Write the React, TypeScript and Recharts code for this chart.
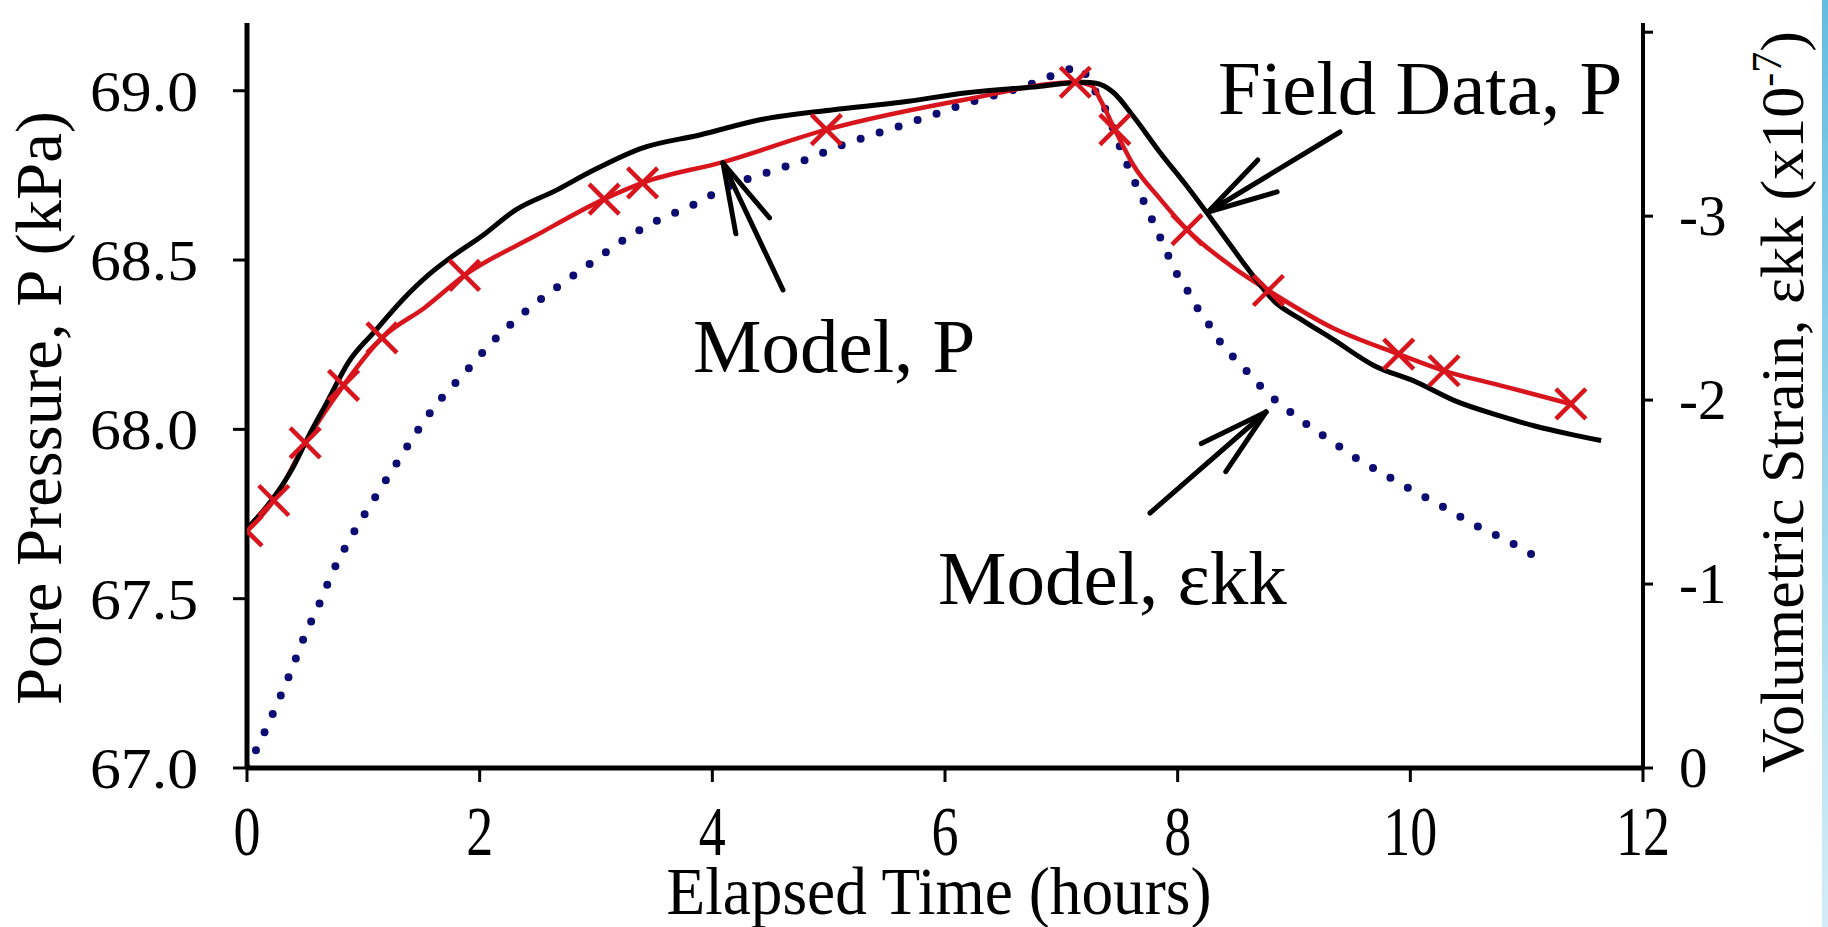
import React from 'react';
import { ComposedChart, Line, Scatter, XAxis, YAxis } from 'recharts';

const FONT = '"Liberation Serif", "Times New Roman", serif';

// Field data, P (black)
const fieldTime = [0, 0.21, 0.39, 0.53, 0.7, 0.87, 1.1, 1.33, 1.56, 1.79, 2.02, 2.3, 2.67, 2.96, 3.39, 3.9, 4.42, 5.04, 5.62, 6.19, 6.76, 7.19, 7.3, 7.45, 7.62, 7.85, 8.08, 8.25, 8.42, 8.59, 8.84, 9.06, 9.33, 9.69, 10.05, 10.38, 10.77, 11.07, 11.37, 11.64];
const fieldP = [67.707, 67.79, 67.884, 67.98, 68.088, 68.197, 68.29, 68.38, 68.456, 68.517, 68.571, 68.646, 68.708, 68.762, 68.83, 68.87, 68.915, 68.944, 68.966, 68.994, 69.011, 69.025, 69.022, 68.994, 68.924, 68.817, 68.718, 68.64, 68.56, 68.48, 68.375, 68.325, 68.267, 68.188, 68.14, 68.085, 68.04, 68.01, 67.986, 67.967];

// Model, P (red line)
const modelTime = [0, 0.23, 0.5, 0.83, 1.16, 1.53, 1.87, 2.47, 3.07, 3.4, 4.1, 4.98, 6.19, 7.12, 7.26, 7.34, 7.46, 7.62, 7.85, 8.08, 8.47, 8.78, 9.33, 9.9, 10.29, 10.77, 11.38];
const modelP = [67.7, 67.79, 67.96, 68.13, 68.27, 68.36, 68.455, 68.57, 68.68, 68.728, 68.79, 68.885, 68.975, 69.025, 69.015, 68.97, 68.885, 68.78, 68.68, 68.59, 68.48, 68.41, 68.3, 68.222, 68.173, 68.13, 68.075];

// Model, P (x markers)
const markerTime = [0, 0.23, 0.5, 0.83, 1.16, 1.87, 3.07, 3.4, 4.98, 7.12, 7.46, 8.08, 8.78, 9.9, 10.29, 11.38];
const markerP = [67.7, 67.79, 67.96, 68.13, 68.27, 68.455, 68.68, 68.728, 68.885, 69.025, 68.885, 68.59, 68.41, 68.222, 68.173, 68.075];

// Model, ekk (blue dotted, x10^-7)
const strainTime = [0, 0.14, 0.26, 0.38, 0.49, 0.62, 0.74, 0.89, 1.06, 1.23, 1.42, 1.62, 1.86, 2.13, 2.41, 2.7, 2.99, 3.26, 3.54, 3.83, 4.1, 4.53, 4.82, 5.09, 5.37, 5.66, 5.94, 6.22, 6.5, 6.79, 7.08, 7.16, 7.22, 7.3, 7.38, 7.49, 7.6, 7.73, 7.86, 7.99, 8.08, 8.16, 8.26, 8.35, 8.47, 8.59, 8.72, 8.86, 9.0, 9.15, 9.29, 9.43, 9.57, 9.71, 9.85, 9.99, 10.28, 10.56, 10.85, 11.13];
const strainValue = [0, -0.18, -0.35, -0.53, -0.71, -0.89, -1.07, -1.25, -1.43, -1.6, -1.79, -1.97, -2.14, -2.33, -2.49, -2.63, -2.76, -2.88, -2.98, -3.06, -3.15, -3.25, -3.31, -3.38, -3.44, -3.5, -3.56, -3.62, -3.67, -3.73, -3.8, -3.81, -3.76, -3.67, -3.58, -3.4, -3.23, -3.05, -2.87, -2.69, -2.6, -2.51, -2.42, -2.33, -2.24, -2.16, -2.07, -1.99, -1.92, -1.85, -1.79, -1.73, -1.67, -1.62, -1.57, -1.52, -1.42, -1.32, -1.23, -1.13];

const xTicks = [0, 2, 4, 6, 8, 10, 12];
const xTickLabels = ['0', '2', '4', '6', '8', '10', '12'];
const pTicks = [67, 67.5, 68, 68.5, 69];
const pTickLabels = ['67.0', '67.5', '68.0', '68.5', '69.0'];
const strainTicks = [-4, -3, -2, -1, 0];
const strainTickLabels = ['', '-3', '-2', '-1', '0'];

const fieldData = fieldTime.map((t, i) => ({ t, p: fieldP[i] }));
const modelData = modelTime.map((t, i) => ({ t, p: modelP[i] }));
const markerData = markerTime.map((t, i) => ({ t, p: markerP[i] }));
const strainData = strainTime.map((t, i) => ({ t, e: strainValue[i] }));

const W = 1828;
const H = 927;
const LW = 200;
const RW = 160;
const XH = 100;

const RED = '#d8141c';
const NAVY = '#0c0c72';

const XTick = ({ x, y, payload }: any) => {
  const label = xTickLabels[xTicks.indexOf(payload.value)];
  return (
    <text x={x} y={y + 71} textAnchor="middle" fontFamily={FONT} fontSize={70} fill="#000"
      textLength={27 * label.length} lengthAdjust="spacingAndGlyphs">{label}</text>
  );
};

const PTick = ({ x, y, payload }: any) => (
  <text x={x - 33} y={y + 20} textAnchor="end" fontFamily={FONT} fontSize={57} fill="#000"
    textLength={108} lengthAdjust="spacingAndGlyphs">{pTickLabels[pTicks.indexOf(payload.value)]}</text>
);

const STick = ({ x, y, payload }: any) => (
  <text x={x + 24} y={y + 19} textAnchor="start" fontFamily={FONT} fontSize={57} fill="#000">
    {strainTickLabels[strainTicks.indexOf(payload.value)]}
  </text>
);

const XMark = ({ cx, cy }: any) => (
  <g stroke={RED} strokeWidth={4.5}>
    <line x1={cx - 15} y1={cy - 15} x2={cx + 15} y2={cy + 15} />
    <line x1={cx - 15} y1={cy + 15} x2={cx + 15} y2={cy - 15} />
  </g>
);

const Arrow = ({ tip, tail }: { tip: number[]; tail: number[] }) => {
  const ang = Math.atan2(tail[1] - tip[1], tail[0] - tip[0]);
  const len = 72;
  const a1 = ang + Math.PI / 12;
  const a2 = ang - Math.PI / 12;
  return (
    <g stroke="#000" strokeWidth={5} strokeLinecap="round" fill="none">
      <line x1={tail[0]} y1={tail[1]} x2={tip[0]} y2={tip[1]} />
      <line x1={tip[0]} y1={tip[1]} x2={tip[0] + len * Math.cos(a1)} y2={tip[1] + len * Math.sin(a1)} />
      <line x1={tip[0]} y1={tip[1]} x2={tip[0] + len * Math.cos(a2)} y2={tip[1] + len * Math.sin(a2)} />
    </g>
  );
};

export default function App() {
  return (
    <div style={{ position: 'relative', width: W, height: H, background: '#fff', overflow: 'hidden' }}>
      <style>{'body{margin:0;background:#fff}'}</style>
      <div style={{ position: 'absolute', left: 1822, top: 0, width: 6, height: H, background: 'linear-gradient(#63bde0, #d3edf7)' }} />
      <div style={{ position: 'absolute', left: 0, top: 0 }}>
        <ComposedChart width={W} height={H} margin={{ top: 23, right: W - 1643 - RW, bottom: H - 768 - XH, left: 247 - LW }}>
          <XAxis xAxisId="b" type="number" dataKey="t" domain={[0, 12]} ticks={xTicks} allowDataOverflow
            height={XH} tickSize={14} axisLine={{ stroke: '#000', strokeWidth: 5 }}
            tickLine={{ stroke: '#000', strokeWidth: 3 }} tick={(p: any) => <XTick {...p} />} />
          <XAxis xAxisId="top" orientation="top" type="number" dataKey="t" domain={[0, 12]} ticks={xTicks}
            allowDataOverflow height={0} mirror tick={false} tickSize={12}
            axisLine={{ stroke: '#000', strokeWidth: 5 }} tickLine={{ stroke: '#000', strokeWidth: 3 }} />
          <YAxis yAxisId="p" type="number" domain={[67, 69.2]} ticks={pTicks} allowDataOverflow width={LW}
            tickSize={14} axisLine={{ stroke: '#000', strokeWidth: 5 }}
            tickLine={{ stroke: '#000', strokeWidth: 3 }} tick={(p: any) => <PTick {...p} />} />
          <YAxis yAxisId="e" orientation="right" type="number" domain={[-4.05, 0]} reversed ticks={strainTicks}
            allowDataOverflow width={RW} tickSize={10} axisLine={{ stroke: '#000', strokeWidth: 4 }}
            tickLine={{ stroke: '#000', strokeWidth: 3 }} tick={(p: any) => <STick {...p} />} />

          <Line xAxisId="b" yAxisId="e" data={strainData} dataKey="e" type="monotone" stroke={NAVY}
            strokeWidth={8} strokeDasharray="0 20" strokeLinecap="round" dot={false} isAnimationActive={false} />
          <Line xAxisId="b" yAxisId="p" data={modelData} dataKey="p" type="monotone" stroke={RED}
            strokeWidth={4.5} dot={false} isAnimationActive={false} />
          <Scatter xAxisId="b" yAxisId="p" data={markerData} dataKey="p"
            shape={(p: any) => <XMark {...p} />} isAnimationActive={false} />
          <Line xAxisId="b" yAxisId="p" data={fieldData} dataKey="p" type="monotone" stroke="#000"
            strokeWidth={5} dot={false} isAnimationActive={false} />
        </ComposedChart>
      </div>
      <svg width={W} height={H} style={{ position: 'absolute', left: 0, top: 0, pointerEvents: 'none' }}
        fontFamily={FONT} fill="#000">
        <text x={61} y={408} fontSize={66} textAnchor="middle" transform="rotate(-90 61 408)"
          textLength={594} lengthAdjust="spacingAndGlyphs">Pore Pressure, P (kPa)</text>
        <text x={1803} y={402} fontSize={62} textAnchor="middle" transform="rotate(-90 1803 402)">
          Volumetric Strain, εkk (x10<tspan dy={-22} fontSize={42}>-7</tspan><tspan dy={22}>)</tspan>
        </text>
        <text x={939} y={914} fontSize={68} textAnchor="middle" textLength={545}
          lengthAdjust="spacingAndGlyphs">Elapsed Time (hours)</text>
        <text x={1218} y={114} fontSize={77}>Field Data, P</text>
        <text x={693} y={372} fontSize={77}>Model, P</text>
        <text x={938} y={604} fontSize={77}>Model, εkk</text>
        <Arrow tip={[1208, 212]} tail={[1340, 132]} />
        <Arrow tip={[723, 163]} tail={[783, 290]} />
        <Arrow tip={[1266, 412]} tail={[1150, 513]} />
      </svg>
    </div>
  );
}
